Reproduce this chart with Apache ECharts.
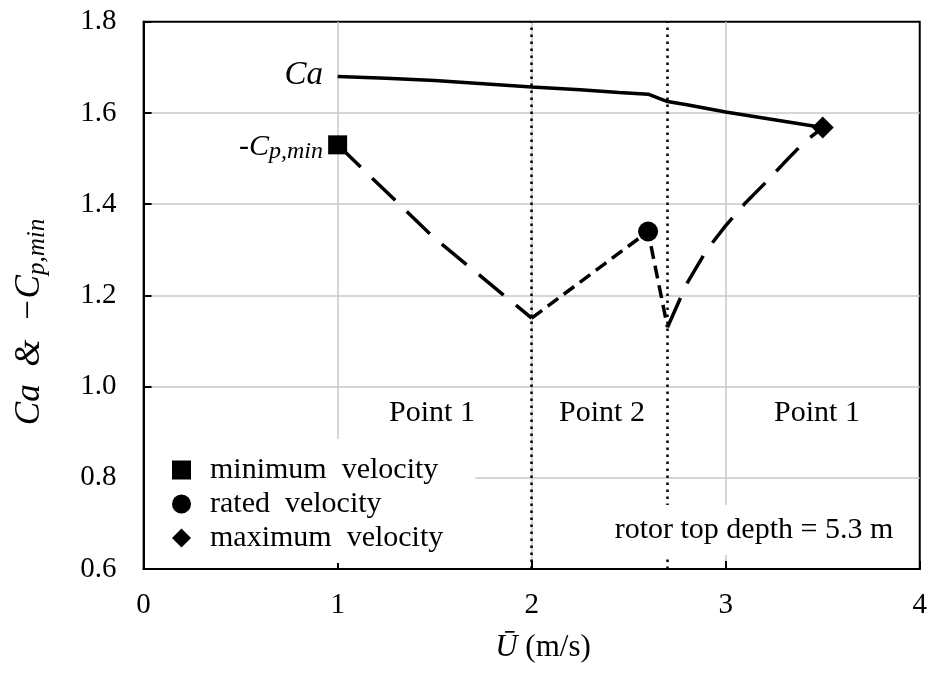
<!DOCTYPE html>
<html>
<head>
<meta charset="utf-8">
<script src="https://cdn.jsdelivr.net/npm/echarts@6/dist/echarts.min.js"></script>
<style>
  html, body { margin: 0; padding: 0; background: #fff; }
  #chart { width: 930px; height: 673px; }
</style>
</head>
<body>
<div id="chart"></div>
<script>
// Added-mass coefficient Ca against mean current speed
const caU      = [1.0, 1.25, 1.5, 1.75, 2.0, 2.25, 2.45, 2.6, 2.7, 2.8, 3.0, 3.25, 3.5];
const caValues = [1.680, 1.676, 1.671, 1.664, 1.657, 1.651, 1.645, 1.641, 1.625, 1.618, 1.602, 1.585, 1.568];

// -Cp,min, split by operating region
const cpRegionAU = [1.0, 1.5, 2.0];
const cpRegionA  = [1.53, 1.325, 1.15];
const cpRegionBU = [2.0, 2.6, 2.7];
const cpRegionB  = [1.15, 1.34, 1.13];
const cpRegionCU = [2.7, 2.8, 2.9, 3.0, 3.1, 3.2, 3.3, 3.4, 3.5];
const cpRegionC  = [1.13, 1.226, 1.298, 1.353, 1.402, 1.445, 1.490, 1.534, 1.568];

// characteristic velocities marked on the -Cp,min curve
const velocityNames = ['minimum  velocity', 'rated  velocity', 'maximum  velocity'];
const velocityIcons = ['rect', 'circle', 'diamond'];
const velocityU     = [1.0, 2.6, 3.5];
const velocityCp    = [1.53, 1.34, 1.568];

// region boundaries and their labels
const regionBounds = [2.0, 2.7];
const regionLabels = ['Point 1', 'Point 2', 'Point 1'];

// axes
const xTicks = [0, 1, 2, 3, 4];
const yTicks = [0.6, 0.8, 1.0, 1.2, 1.4, 1.6, 1.8];

const FONT = "'Liberation Serif', 'Times New Roman', serif";
const zip = (xs, ys) => xs.map((x, i) => [x, ys[i]]);

const chart = echarts.init(document.getElementById('chart'), null, { renderer: 'canvas' });

const symbolSizes = { rect: 19, circle: 20, diamond: 22 };

const markerSeries = velocityNames.map((name, i) => ({
  name: name,
  type: 'scatter',
  data: [[velocityU[i], velocityCp[i]]],
  symbol: velocityIcons[i],
  symbolSize: symbolSizes[velocityIcons[i]],
  itemStyle: { color: '#000', opacity: 1 },
  z: 5,
  silent: true
}));

const option = {
  backgroundColor: '#fff',
  animation: false,
  grid: {
    left: 143.6, right: 8.3, top: 21.7, bottom: 104,
    show: true, borderColor: '#000', borderWidth: 2, backgroundColor: 'transparent'
  },
  xAxis: {
    type: 'value',
    min: xTicks[0], max: xTicks[xTicks.length - 1], interval: 1,
    axisLine: { show: true, lineStyle: { color: '#000', width: 2 } },
    axisTick: { show: true, inside: true, length: 8, lineStyle: { color: '#000', width: 2 } },
    axisLabel: { color: '#000', fontFamily: FONT, fontSize: 29, margin: 22 },
    splitLine: { show: true, showMinLine: false, showMaxLine: false,
      lineStyle: { color: '#c8c8c8', width: 1.5 } }
  },
  yAxis: {
    type: 'value',
    min: yTicks[0], max: yTicks[yTicks.length - 1], interval: 0.2,
    axisLine: { show: true, lineStyle: { color: '#000', width: 2 } },
    axisTick: { show: true, inside: true, length: 8, lineStyle: { color: '#000', width: 2 } },
    axisLabel: { color: '#000', fontFamily: FONT, fontSize: 29, margin: 27,
      formatter: v => v.toFixed(1) },
    splitLine: { show: true, showMinLine: false, showMaxLine: false,
      lineStyle: { color: '#c8c8c8', width: 1.5 } }
  },
  legend: {
    data: velocityNames.map((n, i) => ({ name: n, icon: velocityIcons[i] })),
    orient: 'vertical',
    left: 145, top: 439,
    padding: [16, 32, 10, 27],
    itemWidth: 19, itemHeight: 19, itemGap: 4,
    backgroundColor: '#fff',
    selectedMode: false,
    textStyle: { color: '#000', fontFamily: FONT, fontSize: 30, padding: [0, 0, 0, 14] }
  },
  series: [
    {
      name: 'Ca', type: 'line', data: zip(caU, caValues),
      showSymbol: false, silent: true, z: 3,
      lineStyle: { color: '#000', width: 3.5 },
      markLine: {
        silent: true, symbol: ['none', 'none'], label: { show: false },
        lineStyle: { color: '#000', width: 2.5, type: [2.5, 4.5] },
        data: regionBounds.map(x => ({ xAxis: x }))
      }
    },
    {
      name: 'cpA', type: 'line', data: zip(cpRegionAU, cpRegionA),
      showSymbol: false, silent: true, z: 3,
      lineStyle: { color: '#000', width: 3.5, type: [32, 16] }
    },
    {
      name: 'cpB', type: 'line', data: zip(cpRegionBU, cpRegionB),
      showSymbol: false, silent: true, z: 3,
      lineStyle: { color: '#000', width: 3.5, type: [13, 7] }
    },
    {
      name: 'cpC', type: 'line', data: zip(cpRegionCU, cpRegionC),
      showSymbol: false, silent: true, z: 3,
      lineStyle: { color: '#000', width: 3.5, type: [32, 16] }
    },
    ...markerSeries
  ],
  graphic: [
    // curve labels
    { type: 'text', x: 323, y: 75, z: 50,
      style: { text: 'Ca', fill: '#000', font: 'italic 33px ' + FONT, align: 'right', verticalAlign: 'middle' } },
    { type: 'text', x: 323, y: 147, z: 50,
      style: {
        text: '{m|-}{c|C}{s|p,min}', align: 'right', verticalAlign: 'middle', fill: '#000',
        rich: {
          m: { fontFamily: FONT, fontSize: 30, lineHeight: 34, fill: '#000' },
          c: { fontFamily: FONT, fontSize: 30, fontStyle: 'italic', lineHeight: 34, fill: '#000' },
          s: { fontFamily: FONT, fontSize: 24, fontStyle: 'italic', lineHeight: 18, verticalAlign: 'bottom', fill: '#000' }
        }
      } },
    // region labels
    { type: 'text', x: 432, y: 413, z: 50,
      style: { text: regionLabels[0], fill: '#000', font: '30px ' + FONT, align: 'center', verticalAlign: 'middle' } },
    { type: 'text', x: 602, y: 413, z: 50,
      style: { text: regionLabels[1], fill: '#000', font: '30px ' + FONT, align: 'center', verticalAlign: 'middle' } },
    { type: 'text', x: 817, y: 413, z: 50,
      style: { text: regionLabels[2], fill: '#000', font: '30px ' + FONT, align: 'center', verticalAlign: 'middle' } },
    // installation note
    { type: 'text', x: 754, y: 530, z: 50,
      style: { text: 'rotor top depth = 5.3 m', fill: '#000', font: '30px ' + FONT,
        align: 'center', verticalAlign: 'middle', backgroundColor: '#fff', padding: [10, 14] } },
    // axis titles
    { type: 'text', x: 543, y: 648, z: 50,
      style: {
        text: '{u|Ū} (m/s)', fill: '#000', font: '31px ' + FONT, align: 'center', verticalAlign: 'middle',
        rich: { u: { fontFamily: FONT, fontSize: 31, fontStyle: 'italic', fill: '#000' } }
      } },
    { type: 'text', x: 30, y: 322, z: 50, rotation: Math.PI / 2,
      style: {
        text: '{c|Ca  &  −C}{s|p,min}', align: 'center', verticalAlign: 'middle', fill: '#000',
        rich: {
          c: { fontFamily: FONT, fontSize: 35, fontStyle: 'italic', lineHeight: 40, fill: '#000' },
          s: { fontFamily: FONT, fontSize: 25, fontStyle: 'italic', lineHeight: 20, verticalAlign: 'bottom', fill: '#000' }
        }
      } }
  ]
};

chart.setOption(option);
</script>
</body>
</html>
